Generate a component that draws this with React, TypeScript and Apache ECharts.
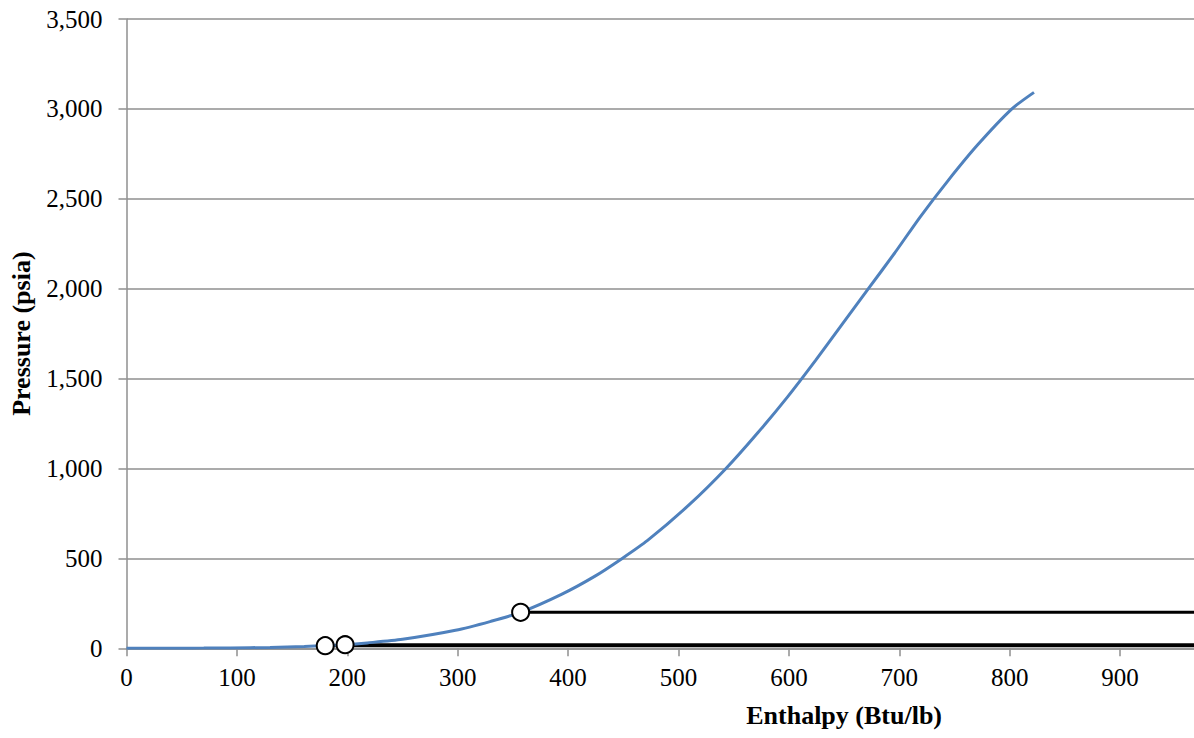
import React, { useEffect, useRef } from "react";
import * as echarts from "echarts";

// Saturated-liquid curve: enthalpy (Btu/lb) vs pressure (psia)
const curveEnthalpy = [0, 48, 70, 94, 130, 161, 180, 198, 218, 250, 298, 330, 357, 394, 424, 449, 472, 510, 543, 572, 599, 624, 648, 672, 696, 719, 744, 771, 802, 822];
const curvePressure = [0.09, 0.5, 1, 2, 5, 10, 14.7, 20, 30, 50, 100, 150, 200, 300, 400, 500, 600, 800, 1000, 1200, 1400, 1600, 1800, 2000, 2200, 2400, 2600, 2800, 3000, 3092];

// State points (circles) and horizontal isobars starting from them
const pointEnthalpy = [180, 198, 357];
const pointPressure = [14.7, 20, 200];
const isobarEnd = 1300;

const xMin = 0;
const xMax = 1300;
const xInterval = 100;
const xLastLabel = 900;
const yMin = 0;
const yMax = 3500;
const yInterval = 500;

const xTitle = "Enthalpy (Btu/lb)";
const yTitle = "Pressure (psia)";

const FONT = "'Liberation Serif', 'Times New Roman', serif";

export default function App() {
  const ref = useRef<HTMLDivElement>(null);
  useEffect(() => {
    document.body.style.margin = "0";
    if (!ref.current) return;
    const chart = echarts.init(ref.current, null, { renderer: "svg" });
    const curve = curveEnthalpy.map((h, i) => [h, curvePressure[i]]);
    const isobars = pointEnthalpy.map((h, i) => ({
      type: "line",
      data: [
        [h, pointPressure[i]],
        [isobarEnd, pointPressure[i]],
      ],
      symbol: "none",
      lineStyle: { color: "#000", width: 3 },
      z: 3,
      silent: true,
    }));
    const gridColor = "#8f8f8f";
    chart.setOption({
      animation: false,
      grid: {
        left: 126.5,
        top: 19,
        bottom: 89.7,
        right: 1194 - (126.5 + 13 * 110.4),
        containLabel: false,
        outerBoundsMode: "none",
      },
      xAxis: {
        type: "value",
        min: xMin,
        max: xMax,
        interval: xInterval,
        name: xTitle,
        nameLocation: "middle",
        nameGap: 54,
        nameTextStyle: { fontFamily: FONT, fontSize: 26, fontWeight: "bold", color: "#000" },
        axisLine: { show: true, onZero: false, lineStyle: { color: gridColor, width: 1.5 } },
        axisTick: { show: true, length: 8, lineStyle: { color: gridColor, width: 1.5 } },
        axisLabel: {
          fontFamily: FONT,
          fontSize: 25,
          color: "#000",
          margin: 17,
          formatter: (v: number) => (v > xLastLabel ? "" : String(v)),
        },
        splitLine: { show: false },
      },
      yAxis: {
        type: "value",
        min: yMin,
        max: yMax,
        interval: yInterval,
        name: yTitle,
        nameLocation: "middle",
        nameRotate: 90,
        nameGap: 92,
        nameTextStyle: { fontFamily: FONT, fontSize: 26, fontWeight: "bold", color: "#000" },
        axisLine: { show: true, lineStyle: { color: gridColor, width: 1.5 } },
        axisTick: { show: true, length: 8, lineStyle: { color: gridColor, width: 1.5 } },
        axisLabel: {
          fontFamily: FONT,
          fontSize: 25,
          color: "#000",
          margin: 24,
          formatter: (v: number) => v.toLocaleString("en-US"),
        },
        splitLine: { show: true, lineStyle: { color: gridColor, width: 1.5 } },
      },
      series: [
        ...isobars,
        {
          type: "line",
          data: curve,
          symbol: "none",
          smooth: 0.25,
          lineStyle: { color: "#4F81BD", width: 3 },
          z: 4,
        },
        {
          type: "scatter",
          data: pointEnthalpy.map((h, i) => [h, pointPressure[i]]),
          symbol: "circle",
          symbolSize: 17,
          itemStyle: { color: "#fff", borderColor: "#000", borderWidth: 2, opacity: 1 },
          z: 5,
        },
      ],
    });
    return () => chart.dispose();
  }, []);
  return <div ref={ref} style={{ width: 1194, height: 738, overflow: "hidden" }} />;
}
